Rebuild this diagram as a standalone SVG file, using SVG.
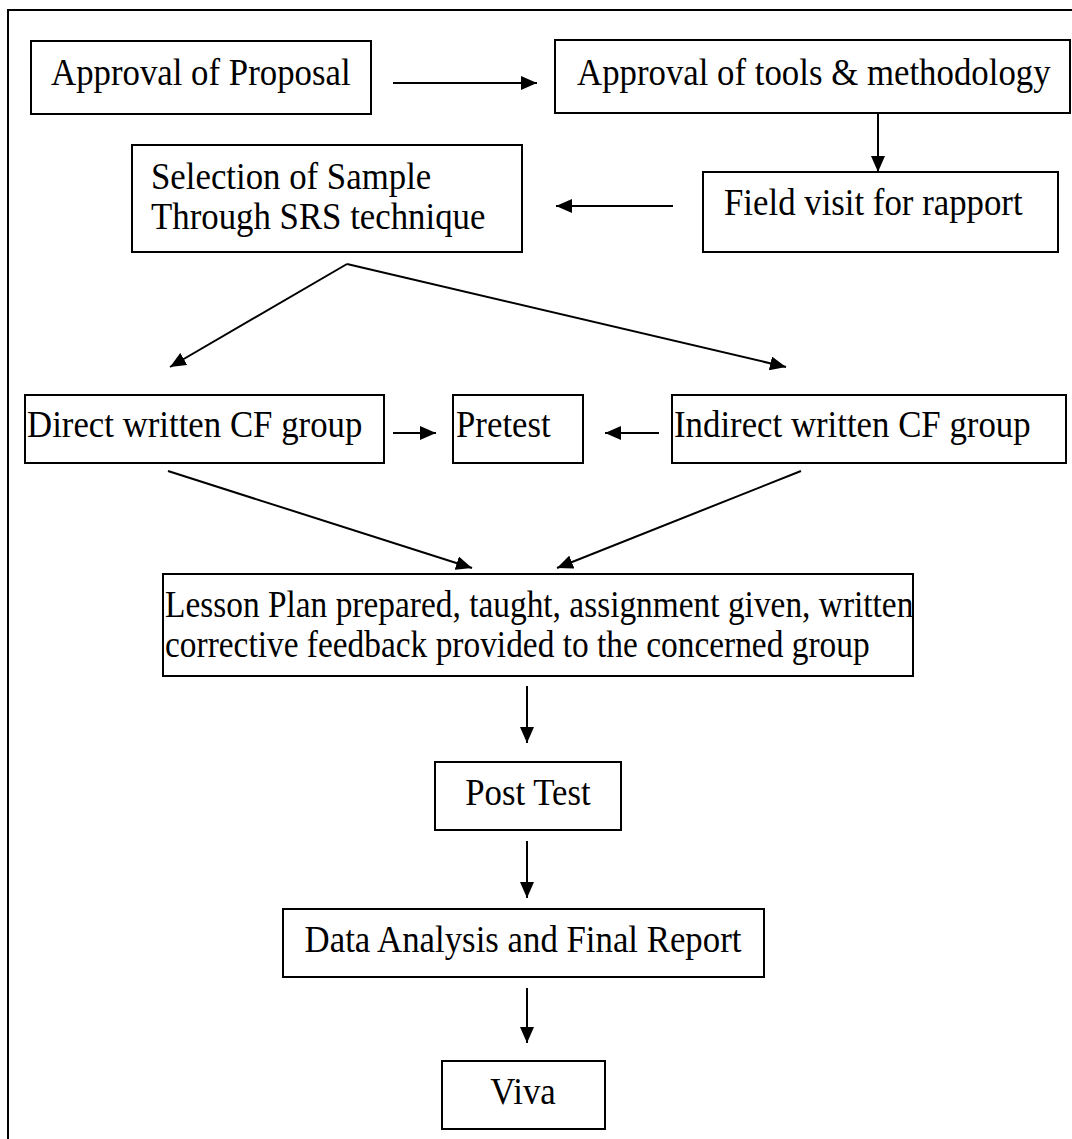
<svg xmlns="http://www.w3.org/2000/svg" width="1072" height="1139" viewBox="0 0 1072 1139">
<style>
.box{fill:#fff;stroke:#000;stroke-width:2}
.t{font-family:"Liberation Serif","Times New Roman",serif;font-size:34.8px;fill:#000}
.s{font-size:33.4px}
.c{text-anchor:middle}
.ln{stroke:#000;stroke-width:2;fill:none}
</style>
<defs>
<marker id="ah" markerUnits="userSpaceOnUse" markerWidth="16" markerHeight="14" refX="16" refY="7" orient="auto">
<path d="M0,0 L16,7 L0,14 Z" fill="#000"/>
</marker>
</defs>
<rect width="1072" height="1139" fill="#fff"/>
<path d="M8,1139 V10 H1072" class="ln"/>
<g id="connectors">
<line x1="393" y1="83" x2="537" y2="83" class="ln" marker-end="url(#ah)"/>
<line x1="878" y1="112" x2="878" y2="172" class="ln" marker-end="url(#ah)"/>
<line x1="673" y1="206" x2="556" y2="206" class="ln" marker-end="url(#ah)"/>
<line x1="347" y1="264" x2="170" y2="367" class="ln" marker-end="url(#ah)"/>
<line x1="347" y1="264" x2="786" y2="367" class="ln" marker-end="url(#ah)"/>
<line x1="393" y1="433" x2="436" y2="433" class="ln" marker-end="url(#ah)"/>
<line x1="659" y1="433" x2="605" y2="433" class="ln" marker-end="url(#ah)"/>
<line x1="168" y1="471" x2="472" y2="568" class="ln" marker-end="url(#ah)"/>
<line x1="801" y1="471" x2="557" y2="568" class="ln" marker-end="url(#ah)"/>
<line x1="527" y1="686" x2="527" y2="743" class="ln" marker-end="url(#ah)"/>
<line x1="527" y1="841" x2="527" y2="898" class="ln" marker-end="url(#ah)"/>
<line x1="527" y1="988" x2="527" y2="1043" class="ln" marker-end="url(#ah)"/>
</g>
<g id="n1"><rect class="box" x="31" y="41" width="340" height="73"/><text class="t" transform="translate(51,85) scale(1,1.1)">Approval of Proposal</text></g>
<g id="n2"><rect class="box" x="555" y="40" width="515" height="73"/><text class="t" transform="translate(577,85) scale(1,1.1)">Approval of tools &amp; methodology</text></g>
<g id="n3"><rect class="box" x="703" y="172" width="355" height="80"/><text class="t" transform="translate(724,215) scale(1,1.1)">Field visit for rapport</text></g>
<g id="n4"><rect class="box" x="132" y="145" width="390" height="107"/><text class="t" transform="translate(151,189) scale(1,1.1)">Selection of Sample</text><text class="t" transform="translate(151,229) scale(1,1.1)">Through SRS technique</text></g>
<g id="n5"><rect class="box" x="25" y="395" width="359" height="68"/><text class="t" transform="translate(27,437) scale(1,1.1)">Direct written CF group</text></g>
<g id="n6"><rect class="box" x="453" y="395" width="130" height="68"/><text class="t" transform="translate(456,437) scale(1,1.1)">Pretest</text></g>
<g id="n7"><rect class="box" x="672" y="395" width="394" height="68"/><text class="t" transform="translate(674,437) scale(1,1.1)">Indirect written CF group</text></g>
<g id="n8"><rect class="box" x="163" y="574" width="750" height="102"/><text class="t s" transform="translate(165,617) scale(1,1.15)">Lesson Plan prepared, taught, assignment given, written</text><text class="t s" transform="translate(165,657) scale(1,1.15)">corrective feedback provided to the concerned group</text></g>
<g id="n9"><rect class="box" x="435" y="762" width="186" height="68"/><text class="t c" transform="translate(528,805) scale(1,1.1)">Post Test</text></g>
<g id="n10"><rect class="box" x="283" y="909" width="481" height="68"/><text class="t c" transform="translate(523,952) scale(1,1.1)">Data Analysis and Final Report</text></g>
<g id="n11"><rect class="box" x="442" y="1061" width="163" height="68"/><text class="t c" transform="translate(523,1104) scale(1,1.1)">Viva</text></g>
</svg>
